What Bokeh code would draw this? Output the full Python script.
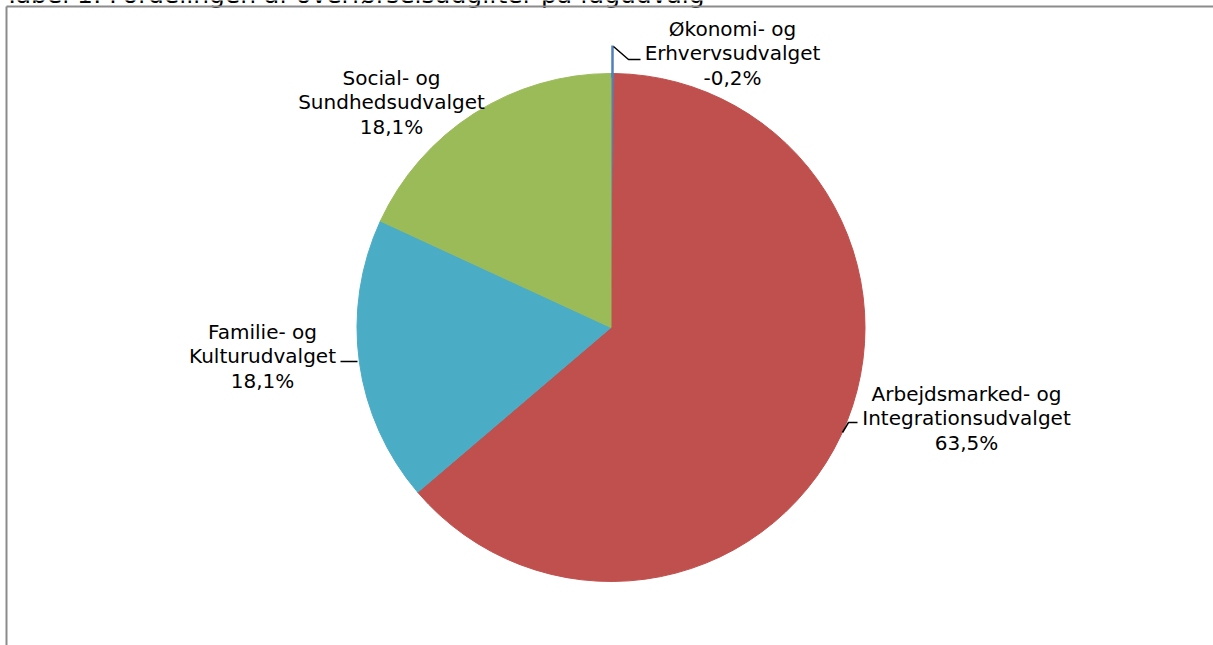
import numpy as np
from bokeh.plotting import figure
from bokeh.models import Range1d, ColumnDataSource
from bokeh.core.properties import value
from bokeh.embed import file_html
from bokeh.resources import INLINE

# ---- data ----
title_text = "Tabel 1: Fordelingen af overførselsudgifter på fagudvalg"
categories = ["Økonomi- og\nErhvervsudvalget",
              "Arbejdsmarked- og\nIntegrationsudvalget",
              "Familie- og\nKulturudvalget",
              "Social- og\nSundhedsudvalget"]
shares = [-0.2, 63.5, 18.1, 18.1]
colors = ["#4F81BD", "#C0504D", "#4BACC6", "#9BBB59"]

# ---- layout (screen pixels) ----
W, H = 1213, 645
CX, CY, R = 610.5, 327.0, 254.0
label_pos = [(732, 53), (966, 418), (262, 356), (391, 102)]
FONT = "DejaVu Sans"


def sy(y):
    return H - y


p = figure(width=W, height=H, output_backend="svg", toolbar_location=None,
           x_range=Range1d(0, W), y_range=Range1d(0, H), min_border=0,
           styles={"position": "absolute", "left": "0px", "top": "0px"})
p.axis.visible = False
p.grid.visible = False
p.outline_line_color = None
p.background_fill_color = "white"
p.border_fill_color = "white"

# wedges
mags = np.abs(np.array(shares))
frac = mags / mags.sum()
cum = np.concatenate([[0], np.cumsum(frac)])
start = np.pi / 2 - cum[:-1] * 2 * np.pi
end = np.pi / 2 - cum[1:] * 2 * np.pi
src = ColumnDataSource(dict(start=start, end=end, color=colors))
p.wedge(x=CX, y=sy(CY), radius=R, start_angle="start", end_angle="end",
        direction="clock", fill_color="color", line_color="color",
        line_width=1, source=src)

# small slice marker extending above pie
p.line([CX + 1.5, CX + 1.5], [sy(45), sy(CY - R + 4)], line_color="#4F81BD", line_width=2.5)

# leader lines
p.multi_line(xs=[[613, 628, 640], [357, 348, 340], [842, 848, 857]],
             ys=[[sy(46), sy(59), sy(59)], [sy(361), sy(361), sy(361)],
                 [sy(432), sy(422), sy(422)]],
             line_color="black", line_width=1.5)

# labels
texts = [f"{c}\n{str(v).replace('.', ',')}%" for c, v in zip(categories, shares)]
lx = [q[0] for q in label_pos]
ly = [sy(q[1]) for q in label_pos]
p.text(x=lx, y=ly, text=texts, text_align="center", text_baseline="middle",
       text_font=value(FONT), text_font_size="20px", text_color="black",
       text_line_height=1.02)

# title (cut off at the top edge)
p.text(x=[4], y=[sy(8)], text=[title_text], text_align="left", text_baseline="bottom",
       text_font=value(FONT), text_font_size="25px", text_color="black")

# frame
p.line([6, 6], [sy(6), sy(H + 5)], line_color="#8c8c8c", line_width=2)
p.line([6, W + 5], [sy(6), sy(6)], line_color="#8c8c8c", line_width=2)

open("out.html", "w").write(file_html(p, INLINE))
